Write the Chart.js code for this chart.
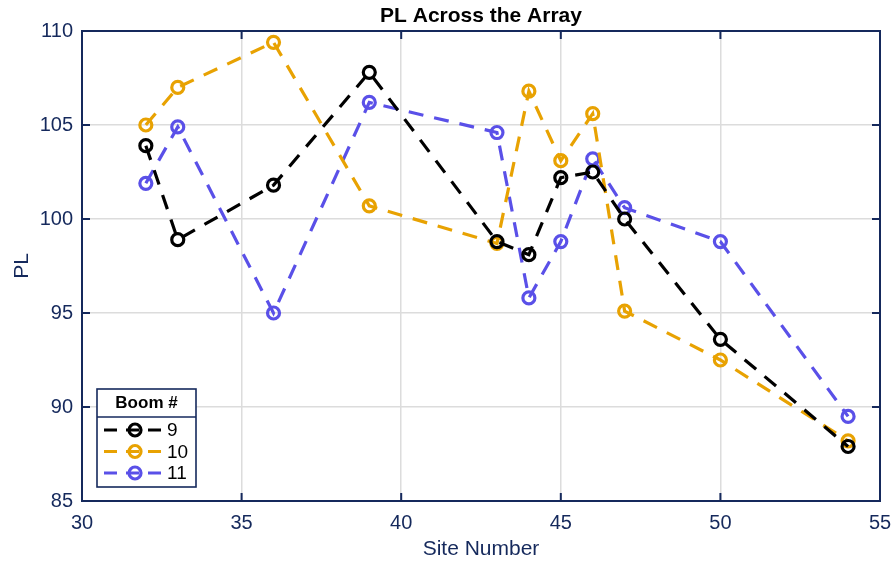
<!DOCTYPE html>
<html>
<head>
<meta charset="utf-8">
<style>
  html, body { margin: 0; padding: 0; background: #ffffff; }
  #wrap { width: 896px; height: 562px; }
</style>
<script src="https://cdn.jsdelivr.net/npm/chart.js@4/dist/chart.umd.min.js"></script>
</head>
<body>
<div id="wrap"><canvas id="c" width="896" height="562"></canvas></div>
<script>
// Site numbers along the array and path loss per boom
const siteNumbers = [32, 33, 36, 39, 43, 44, 45, 46, 47, 50, 54];
const boom9  = [103.9, 98.9, 101.8, 107.8, 98.8, 98.1, 102.2, 102.5, 100.0, 93.6, 87.9];
const boom10 = [105.0, 107.0, 109.4, 100.7, 98.7, 106.8, 103.1, 105.6, 95.1, 92.5, 88.2];
const boom11 = [101.9, 104.9, 95.0, 106.2, 104.6, 95.8, 98.8, 103.2, 100.6, 98.8, 89.5];
const boomLabels = ['9', '10', '11'];
const boomColors = ['#000000', '#E8A202', '#5A50E8'];
const xTicks = [30, 35, 40, 45, 50, 55];
const yTicks = [85, 90, 95, 100, 105, 110];
const chartTitle = 'PL Across the Array';
const legendTitle = 'Boom #';

const NAVY = '#15295C';
const FONT = "'Liberation Sans', Arial, Helvetica, sans-serif";
const DASH = [15, 11];

function toPoints(xs, ys) {
  return xs.map((x, i) => ({ x: x, y: ys[i] }));
}

const seriesValues = [boom9, boom10, boom11];
const datasets = seriesValues.map((vals, i) => ({
  label: boomLabels[i],
  data: toPoints(siteNumbers, vals),
  borderColor: boomColors[i],
  backgroundColor: 'rgba(0,0,0,0)',
  borderWidth: 3.2,
  borderDash: DASH,
  pointRadius: 6,
  pointBorderWidth: 3.2,
  pointBackgroundColor: 'rgba(0,0,0,0)',
  pointBorderColor: boomColors[i],
  tension: 0
}));

// Title over the plot, box outline with inward tick marks, and the boxed legend
const framePlugin = {
  id: 'frame',
  afterDraw(chart) {
    const { ctx, chartArea: a, scales: { x, y } } = chart;
    ctx.save();

    ctx.fillStyle = '#000000';
    ctx.font = 'bold 21px ' + FONT;
    ctx.textAlign = 'center';
    ctx.textBaseline = 'middle';
    ctx.fillText(chartTitle, (a.left + a.right) / 2, 16);

    ctx.strokeStyle = NAVY;
    ctx.lineWidth = 2;
    ctx.setLineDash([]);
    ctx.strokeRect(a.left, a.top, a.right - a.left, a.bottom - a.top);
    const len = 8;
    ctx.beginPath();
    xTicks.forEach(v => {
      const px = x.getPixelForValue(v);
      ctx.moveTo(px, a.bottom); ctx.lineTo(px, a.bottom - len);
      ctx.moveTo(px, a.top); ctx.lineTo(px, a.top + len);
    });
    yTicks.forEach(v => {
      const py = y.getPixelForValue(v);
      ctx.moveTo(a.left, py); ctx.lineTo(a.left + len, py);
      ctx.moveTo(a.right, py); ctx.lineTo(a.right - len, py);
    });
    ctx.stroke();

    // legend
    const L = { x: 97, y: 389, w: 99, h: 98, sep: 28 };
    ctx.fillStyle = '#ffffff';
    ctx.fillRect(L.x, L.y, L.w, L.h);
    ctx.strokeStyle = NAVY;
    ctx.lineWidth = 1.6;
    ctx.strokeRect(L.x, L.y, L.w, L.h);
    ctx.beginPath();
    ctx.moveTo(L.x, L.y + L.sep); ctx.lineTo(L.x + L.w, L.y + L.sep);
    ctx.stroke();
    ctx.fillStyle = '#000000';
    ctx.font = 'bold 17px ' + FONT;
    ctx.textAlign = 'center';
    ctx.fillText(legendTitle, L.x + L.w / 2, L.y + 14);
    chart.data.datasets.forEach((ds, i) => {
      const cy = L.y + 41 + i * 21.5;
      ctx.strokeStyle = ds.borderColor;
      ctx.lineWidth = 3.2;
      ctx.setLineDash([13, 9]);
      ctx.beginPath();
      ctx.moveTo(104, cy); ctx.lineTo(165, cy);
      ctx.stroke();
      ctx.setLineDash([]);
      ctx.beginPath();
      ctx.arc(135, cy, 6, 0, Math.PI * 2);
      ctx.stroke();
      ctx.fillStyle = '#000000';
      ctx.font = '19px ' + FONT;
      ctx.textAlign = 'left';
      ctx.fillText(ds.label, 167, cy + 1);
    });
    ctx.restore();
  }
};

new Chart(document.getElementById('c'), {
  type: 'line',
  data: { datasets: datasets },
  plugins: [framePlugin],
  options: {
    responsive: false,
    animation: false,
    devicePixelRatio: 1,
    layout: { padding: { left: 0, right: 16, top: 31, bottom: 0 } },
    plugins: {
      legend: { display: false },
      tooltip: { enabled: false },
      title: { display: false }
    },
    scales: {
      x: {
        type: 'linear',
        min: 30, max: 55,
        afterBuildTicks: s => { s.ticks = xTicks.map(v => ({ value: v })); },
        afterFit: s => { s.height = 61; s.paddingLeft = 0; s.paddingRight = 0; },
        ticks: { color: NAVY, font: { family: FONT, size: 20 }, padding: 10, maxRotation: 0 },
        grid: { color: '#DCDCDC', lineWidth: 1.5, drawTicks: false },
        border: { display: false },
        title: {
          display: true, text: 'Site Number', color: NAVY,
          font: { family: FONT, size: 21 }, padding: { top: 0, bottom: 0 }
        }
      },
      y: {
        type: 'linear',
        min: 85, max: 110,
        afterBuildTicks: s => { s.ticks = yTicks.map(v => ({ value: v })); },
        afterFit: s => { s.width = 82; s.paddingTop = 0; s.paddingBottom = 0; },
        ticks: { color: NAVY, font: { family: FONT, size: 20 }, padding: 9 },
        grid: { color: '#DCDCDC', lineWidth: 1.5, drawTicks: false },
        border: { display: false },
        title: {
          display: true, text: 'PL', color: NAVY,
          font: { family: FONT, size: 21 }, padding: { top: 10, bottom: 0 }
        }
      }
    }
  }
});
</script>
</body>
</html>
